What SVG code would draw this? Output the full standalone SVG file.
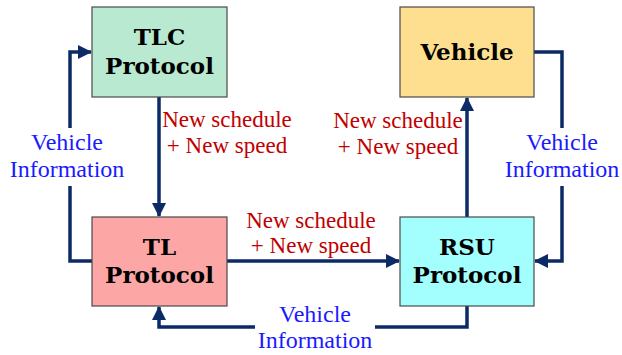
<svg xmlns="http://www.w3.org/2000/svg" width="622" height="355" viewBox="0 0 622 355">
<style>
.box{stroke:#4a4a4a;stroke-width:1.2}
.nl{font-family:"DejaVu Serif",serif;font-weight:bold;font-size:23px;fill:#000;text-anchor:middle}
.red{font-family:"Liberation Serif",serif;font-size:23px;fill:#c00000;text-anchor:middle}
.blue{font-family:"Liberation Serif",serif;font-size:24px;fill:#1a1aff;text-anchor:middle}
.c{fill:none;stroke:#0c2a66;stroke-width:3.5;stroke-linejoin:miter}
</style>
<defs>
<marker id="ah" markerUnits="userSpaceOnUse" markerWidth="14" markerHeight="14" viewBox="0 0 14 14" refX="13" refY="7" orient="auto">
<path d="M0,0 L14,7 L0,14 Z" fill="#0c2a66"/>
</marker>
</defs>
<rect width="622" height="355" fill="#fff"/>
<g id="connectors">
<path class="c" d="M159,97 V216" marker-end="url(#ah)"/>
<path class="c" d="M92,261 H70 V186"/>
<path class="c" d="M70,128 V52 H91" marker-end="url(#ah)"/>
<path class="c" d="M227,261 H399" marker-end="url(#ah)"/>
<path class="c" d="M467,217 V98" marker-end="url(#ah)"/>
<path class="c" d="M534,52 H562 V128"/>
<path class="c" d="M562,186 V261 H535" marker-end="url(#ah)"/>
<path class="c" d="M467,306 V327 H375"/>
<path class="c" d="M255,327 H159 V307" marker-end="url(#ah)"/>
</g>
<g id="tlc">
<rect class="box" x="92" y="7" width="135" height="90" fill="#b9e9d1"/>
<text class="nl" x="159.5" y="45">TLC</text>
<text class="nl" x="159.5" y="74">Protocol</text>
</g>
<g id="vehicle">
<rect class="box" x="400" y="7" width="134" height="90" fill="#fedf8f"/>
<text class="nl" x="467" y="60">Vehicle</text>
</g>
<g id="tl">
<rect class="box" x="92" y="217" width="135" height="89" fill="#fca6a6"/>
<text class="nl" x="159.5" y="255">TL</text>
<text class="nl" x="159.5" y="283">Protocol</text>
</g>
<g id="rsu">
<rect class="box" x="400" y="217" width="134" height="89" fill="#a3fffe"/>
<text class="nl" x="467" y="255">RSU</text>
<text class="nl" x="467" y="283">Protocol</text>
</g>
<g id="labels">
<text class="red" x="227" y="127">New schedule</text>
<text class="red" x="227" y="153">+ New speed</text>
<text class="red" x="398" y="128">New schedule</text>
<text class="red" x="398" y="154">+ New speed</text>
<text class="red" x="311" y="228">New schedule</text>
<text class="red" x="311" y="253">+ New speed</text>
<text class="blue" x="67" y="150">Vehicle</text>
<text class="blue" x="67" y="177">Information</text>
<text class="blue" x="562" y="150">Vehicle</text>
<text class="blue" x="562" y="177">Information</text>
<text class="blue" x="315" y="322">Vehicle</text>
<text class="blue" x="315" y="348">Information</text>
</g>
</svg>
